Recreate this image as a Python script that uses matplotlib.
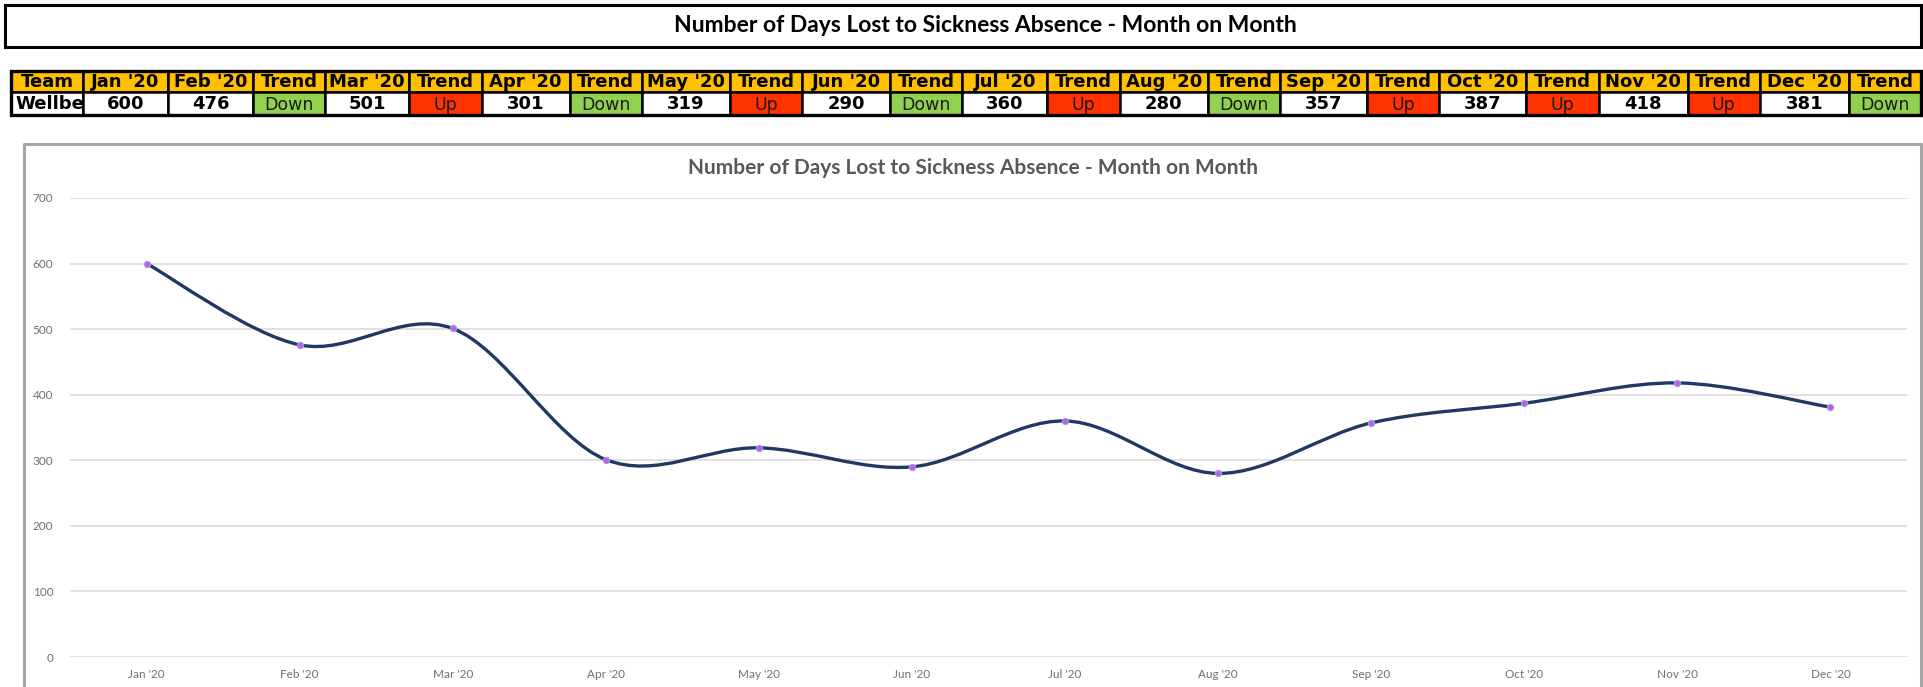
import matplotlib.pyplot as plt
from matplotlib.patches import Rectangle, PathPatch
from matplotlib.path import Path

title = "Number of Days Lost to Sickness Absence - Month on Month"
team = "Wellbeing"
months = ["Jan '20", "Feb '20", "Mar '20", "Apr '20", "May '20", "Jun '20",
          "Jul '20", "Aug '20", "Sep '20", "Oct '20", "Nov '20", "Dec '20"]
days = [600, 476, 501, 301, 319, 290, 360, 280, 357, 387, 418, 381]
trends = ["Down", "Up", "Down", "Up", "Down", "Up", "Down", "Up", "Up", "Up", "Down"]

W, H = 1924, 687
fig = plt.figure(figsize=(W / 100, H / 100), dpi=100)

# background axes in pixel coords for boxes and the table
bg = fig.add_axes([0, 0, 1, 1])
bg.set_xlim(0, W)
bg.set_ylim(H, 0)
bg.axis("off")

# top title box
bg.add_patch(Rectangle((5, 5), 1916, 42, fill=False, ec="black", lw=2.2))
bg.text(985, 26, title, ha="center", va="center", fontsize=16.5,
        fontweight="bold", family="Lato", color="black")

# table
month_w = [85, 85, 84, 88, 88, 88, 85, 88, 87, 87, 89, 89]
trend_w = 72.3
cols = [("Team", team, "white", "team")]
cols.append((months[0], str(days[0]), "white", "val"))
for i in range(1, 12):
    cols.append((months[i], str(days[i]), "white", "val"))
    t = trends[i - 1]
    cols.append(("Trend", t, "#92d050" if t == "Down" else "#ff3300", "trend"))

widths = [72, month_w[0]]
for i in range(1, 12):
    widths += [month_w[i], trend_w]

x0 = 11
top, mid, bot = 71, 92, 115
fs = 13
for (head, val, col, kind), w in zip(cols, widths):
    bg.add_patch(Rectangle((x0, top), w, mid - top, fc="#ffc000", ec="black", lw=1.8))
    cell = Rectangle((x0, mid), w, bot - mid, fc=col, ec="black", lw=1.8)
    bg.add_patch(cell)
    bg.text(x0 + w / 2, (top + mid) / 2 + 0.5, head, ha="center", va="center",
            fontsize=fs, fontweight="bold", family="DejaVu Sans")
    if kind == "team":
        t = bg.text(x0 + 4, (mid + bot) / 2 + 0.5, val, ha="left", va="center",
                    fontsize=fs, fontweight="bold", family="DejaVu Sans",
                    clip_on=True)
        t.set_clip_path(cell)
    elif kind == "trend":
        bg.text(x0 + w / 2, (mid + bot) / 2 + 1, val, ha="center", va="center",
                fontsize=12.5, family="DejaVu Sans", color="#1a1a1a")
    else:
        bg.text(x0 + w / 2, (mid + bot) / 2 + 0.5, val, ha="center", va="center",
                fontsize=fs, fontweight="bold", family="DejaVu Sans")
    x0 += w
bg.add_patch(Rectangle((11, top), x0 - 11, bot - top, fill=False, ec="black", lw=2.4))

# chart frame (bottom edge is off the picture)
bg.plot([24, 24, 1921, 1921], [700, 144, 144, 700], color="#a6a6a6", lw=2.2)
bg.text(973, 168, title, ha="center", va="center", fontsize=15,
        fontweight="bold", family="Lato", color="#595959")

# line chart
ax = fig.add_axes([70 / W, 1 - 657 / H, 1837 / W, 459 / H])
ax.patch.set_alpha(0)
x = list(range(len(days)))
ax.set_xlim(-0.5, 11.5)
ax.set_ylim(0, 700)
ax.set_yticks(range(0, 701, 100))
ax.set_xticks(x)
ax.set_xticklabels(months)
for s in ax.spines.values():
    s.set_visible(False)
ax.grid(axis="y", color="#d9d9d9", lw=1.1)
ax.set_axisbelow(True)
ax.tick_params(length=0, labelsize=8.5, labelcolor="#707070")
ax.tick_params(axis="y", pad=12)
ax.tick_params(axis="x", pad=9)
for lab in ax.get_xticklabels() + ax.get_yticklabels():
    lab.set_family("Lato")

# smoothed line like Excel (Catmull-Rom style bezier through the points)
pts = list(zip(x, days))
verts = [pts[0]]
codes = [Path.MOVETO]
n = len(pts)
for i in range(n - 1):
    p0 = pts[max(i - 1, 0)]
    p1 = pts[i]
    p2 = pts[i + 1]
    p3 = pts[min(i + 2, n - 1)]
    c1 = (p1[0] + (p2[0] - p0[0]) / 6, p1[1] + (p2[1] - p0[1]) / 6)
    c2 = (p2[0] - (p3[0] - p1[0]) / 6, p2[1] - (p3[1] - p1[1]) / 6)
    verts += [c1, c2, p2]
    codes += [Path.CURVE4] * 3
ax.add_patch(PathPatch(Path(verts, codes), fc="none", ec="#1f3864", lw=2.4,
                       capstyle="round", joinstyle="round"))
ax.plot(x, days, ls="none", marker="o", ms=4.5, mfc="#cc55ee",
        mec="#8ea9db", mew=0.8, zorder=3)

plt.savefig("out.png", dpi=100)
